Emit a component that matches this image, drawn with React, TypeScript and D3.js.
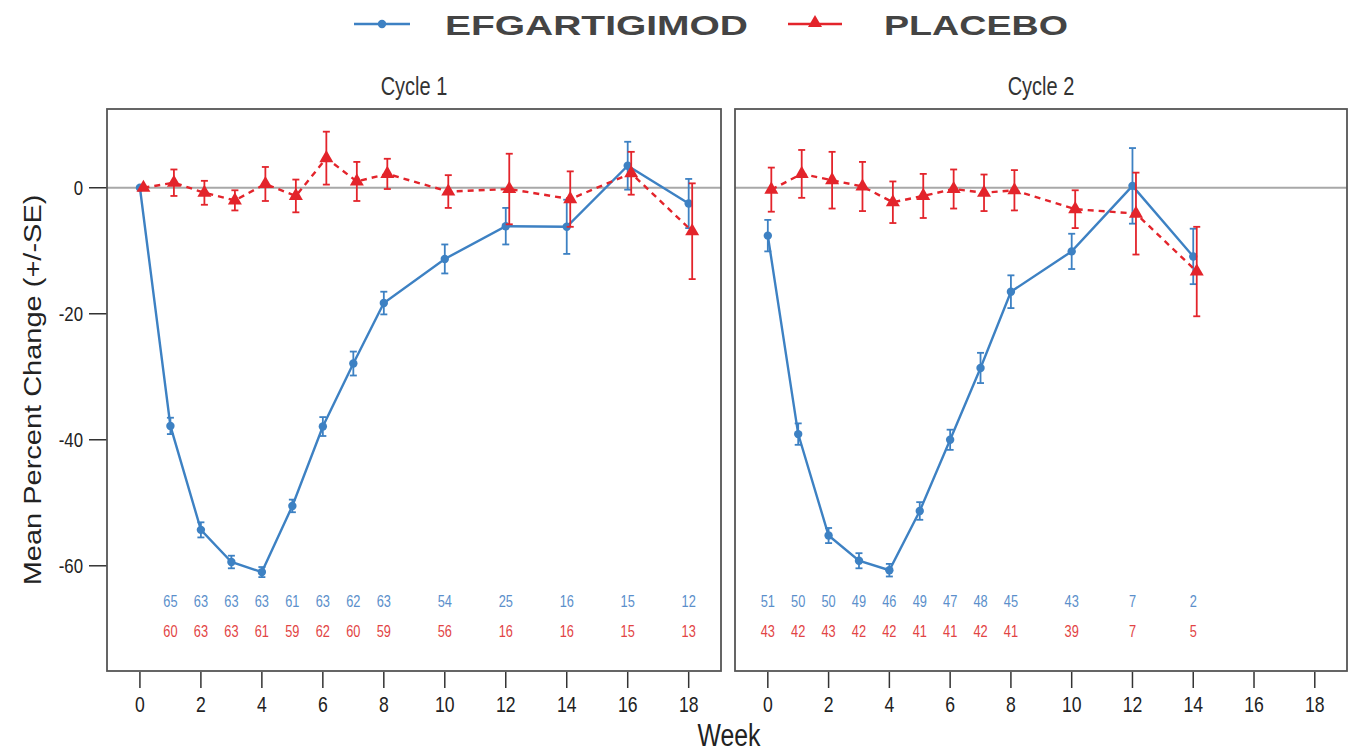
import React from 'react';
import * as d3 from 'd3';

// cycle 1
const weeksC1 = [0, 1, 2, 3, 4, 5, 6, 7, 8, 10, 12, 14, 16, 18];
const efgC1 = [0, -37.8, -54.3, -59.4, -61.0, -50.5, -37.9, -27.9, -18.3, -11.3, -6.1, -6.2, 3.5, -2.5];
const efgC1Se = [0, 1.3, 1.2, 1.0, 0.8, 1.0, 1.5, 1.9, 1.8, 2.3, 2.9, 4.3, 3.8, 3.9];
const pboC1 = [0, 0.8, -0.8, -2.0, 0.6, -1.3, 4.7, 1.0, 2.2, -0.6, -0.2, -1.8, 2.3, -6.9];
const pboC1Se = [0, 2.1, 1.9, 1.6, 2.7, 2.6, 4.2, 3.1, 2.4, 2.6, 5.6, 4.4, 3.4, 7.6];
const nWeeksC1 = [1, 2, 3, 4, 5, 6, 7, 8, 10, 12, 14, 16, 18];
const nEfgC1 = [65, 63, 63, 63, 61, 63, 62, 63, 54, 25, 16, 15, 12];
const nPboC1 = [60, 63, 63, 61, 59, 62, 60, 59, 56, 16, 16, 15, 13];

// cycle 2
const weeksC2 = [0, 1, 2, 3, 4, 5, 6, 7, 8, 10, 12, 14];
const efgC2 = [-7.6, -39.1, -55.2, -59.2, -60.7, -51.3, -40.0, -28.6, -16.5, -10.1, 0.3, -10.9];
const efgC2Se = [2.5, 1.7, 1.2, 1.2, 1.0, 1.4, 1.6, 2.4, 2.6, 2.8, 6.0, 4.4];
const pboC2 = [-0.3, 2.2, 1.2, 0.2, -2.3, -1.3, -0.2, -0.8, -0.4, -3.4, -4.1, -13.3];
const pboC2Se = [3.5, 3.8, 4.5, 3.9, 3.3, 3.5, 3.1, 2.9, 3.2, 3.0, 6.5, 7.1];
const nWeeksC2 = [0, 1, 2, 3, 4, 5, 6, 7, 8, 10, 12, 14];
const nEfgC2 = [51, 50, 50, 49, 46, 49, 47, 48, 45, 43, 7, 2];
const nPboC2 = [43, 42, 43, 42, 42, 41, 41, 42, 41, 39, 7, 5];

const xTicks = [0, 2, 4, 6, 8, 10, 12, 14, 16, 18];
const yTicks = [0, -20, -40, -60];
const panelTitles = ['Cycle 1', 'Cycle 2'];

const BLUE = '#3d81c3';
const RED = '#e3242b';
const FONT = 'Liberation Sans, Arial, sans-serif';
const SQ = 0.8; // reference text is horizontally squeezed

const top = 109;
const bottom = 671;
const panels = [
  { x0: 107, x1: 721 },
  { x0: 735, x1: 1347 },
];

const y = d3.scaleLinear().domain([12.5, -76.7]).range([top, bottom]);

const series = [
  {
    weeks: weeksC1, efg: efgC1, efgSe: efgC1Se, pbo: pboC1, pboSe: pboC1Se,
    nWeeks: nWeeksC1, nEfg: nEfgC1, nPbo: nPboC1,
  },
  {
    weeks: weeksC2, efg: efgC2, efgSe: efgC2Se, pbo: pboC2, pboSe: pboC2Se,
    nWeeks: nWeeksC2, nEfg: nEfgC2, nPbo: nPboC2,
  },
];

const Txt = ({ x, y, size, fill = '#222', anchor = 'middle', children, weight = 'normal' }: any) => (
  <text
    transform={`translate(${x},${y}) scale(${SQ},1)`}
    fontSize={size}
    fill={fill}
    textAnchor={anchor}
    fontFamily={FONT}
    fontWeight={weight}
  >
    {children}
  </text>
);

const ErrorBars = ({ x, vals, se, color, dx }: any) => (
  <g stroke={color} strokeWidth={1.8}>
    {vals.map((v: number, i: number) => {
      if (!se[i]) return null;
      const cx = x(i) + dx;
      const y1 = y(v + se[i]);
      const y2 = y(v - se[i]);
      return (
        <g key={i}>
          <line x1={cx} x2={cx} y1={y1} y2={y2} />
          <line x1={cx - 3.5} x2={cx + 3.5} y1={y1} y2={y1} />
          <line x1={cx - 3.5} x2={cx + 3.5} y1={y2} y2={y2} />
        </g>
      );
    })}
  </g>
);

const tri = d3.symbol().type(d3.symbolTriangle).size(85)();

const Panel = ({ idx }: { idx: number }) => {
  const p = panels[idx];
  const s = series[idx];
  const x = d3.scaleLinear().domain([-1.08, 19.06]).range([p.x0, p.x1]);
  const dodge = 3.5;
  const line = d3.line<number>().x((_, i) => x(s.weeks[i])).y((d) => y(d));
  const redLine = d3.line<number>().x((_, i) => x(s.weeks[i]) + dodge).y((d) => y(d));
  const xi = (i: number) => x(s.weeks[i]);

  return (
    <g>
      <line x1={p.x0} x2={p.x1} y1={y(0)} y2={y(0)} stroke="#a8a8a8" strokeWidth={2} />
      <path d={line(s.efg) || ''} fill="none" stroke={BLUE} strokeWidth={2.4} />
      <ErrorBars x={xi} vals={s.efg} se={s.efgSe} color={BLUE} dx={0} />
      {s.efg.map((v, i) => (
        <circle key={i} cx={xi(i)} cy={y(v)} r={4.2} fill={BLUE} />
      ))}
      <path d={redLine(s.pbo) || ''} fill="none" stroke={RED} strokeWidth={2.4} strokeDasharray="6,5" />
      <ErrorBars x={xi} vals={s.pbo} se={s.pboSe} color={RED} dx={dodge} />
      {s.pbo.map((v, i) => (
        <path key={i} d={tri || ''} transform={`translate(${xi(i) + dodge},${y(v)})`} fill={RED} />
      ))}
      {s.nWeeks.map((w, i) => (
        <g key={i}>
          <Txt x={x(w)} y={607} size={16} fill="#5b8fcb">{s.nEfg[i]}</Txt>
          <Txt x={x(w)} y={637} size={16} fill="#e24444">{s.nPbo[i]}</Txt>
        </g>
      ))}
      <rect x={p.x0} y={top} width={p.x1 - p.x0} height={bottom - top} fill="none" stroke="#555" strokeWidth={1.8} />
      <Txt x={(p.x0 + p.x1) / 2} y={95} size={25} fill="#333">{panelTitles[idx]}</Txt>
      {xTicks.map((t) => (
        <g key={t}>
          <line x1={x(t)} x2={x(t)} y1={bottom + 1} y2={bottom + 17} stroke="#333" strokeWidth={1.5} />
          <Txt x={x(t)} y={712} size={22}>{t}</Txt>
        </g>
      ))}
    </g>
  );
};

export default function App() {
  return (
    <svg
      width={1349}
      height={752}
      style={{ position: 'absolute', left: 0, top: 0, background: '#fff' }}
    >
      {/* legend */}
      <line x1={354} x2={410} y1={24} y2={24} stroke={BLUE} strokeWidth={2.4} />
      <circle cx={382} cy={24} r={4.2} fill={BLUE} />
      <text x={445} y={35} fontSize={28} fontWeight="bold" fill="#444" fontFamily={FONT}
        textLength={303} lengthAdjust="spacingAndGlyphs">EFGARTIGIMOD</text>
      <line x1={788} x2={842} y1={24} y2={24} stroke={RED} strokeWidth={2.4} />
      <path d={tri || ''} transform="translate(815,23)" fill={RED} />
      <text x={884} y={35} fontSize={28} fontWeight="bold" fill="#444" fontFamily={FONT}
        textLength={184} lengthAdjust="spacingAndGlyphs">PLACEBO</text>

      {/* y axis */}
      {yTicks.map((t) => (
        <g key={t}>
          <line x1={89} x2={107} y1={y(t)} y2={y(t)} stroke="#333" strokeWidth={1.5} />
          <Txt x={83} y={y(t) + 7} size={21} anchor="end">{t}</Txt>
        </g>
      ))}
      <text
        transform={`translate(41,390) scale(${SQ},1) rotate(-90)`}
        fontSize={29}
        textAnchor="middle"
        fill="#222"
        fontFamily={FONT}
      >
        Mean Percent Change (+/-SE)
      </text>

      <Panel idx={0} />
      <Panel idx={1} />

      <Txt x={729} y={746} size={31}>Week</Txt>
    </svg>
  );
}
